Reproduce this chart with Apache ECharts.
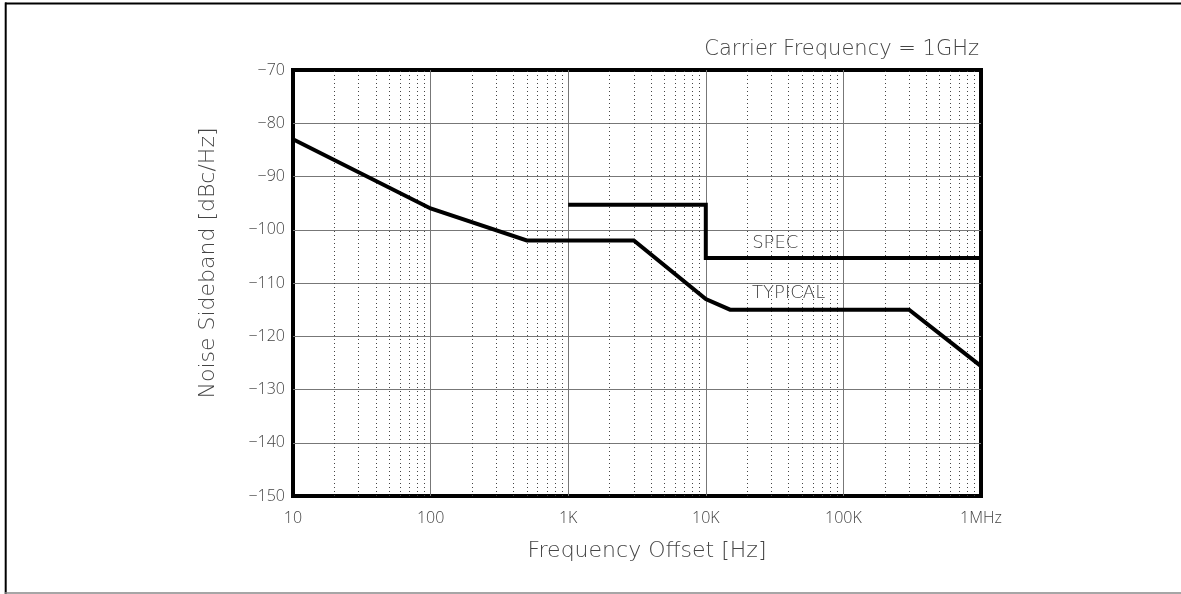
<!DOCTYPE html>
<html>
<head>
<meta charset="utf-8">
<script src="https://cdn.jsdelivr.net/npm/echarts@6/dist/echarts.min.js"></script>
<style>
html,body{margin:0;padding:0;background:#fff;}
#chart{width:1181px;height:594px;}
</style>
</head>
<body>
<div id="chart"></div>
<script>
// ---- data ----
const typicalFreq = [10, 100, 500, 3000, 10000, 15000, 300000, 1000000];
const typicalDb   = [-83, -96, -102, -102, -113, -115, -115, -125.6];
const specFreq    = [1000, 10000, 10000, 1000000];
const specDb      = [-95.3, -95.3, -105.3, -105.3];
const xTickLabels = ['10', '100', '1K', '10K', '100K', '1MHz'];
const seriesNames = ['SPEC', 'TYPICAL'];
const labelFreq   = [32000, 40000];
const labelDb     = [-102.6, -112];
const titleText   = 'Carrier Frequency = 1GHz';
const xName       = 'Frequency Offset [Hz]';
const yName       = 'Noise Sideband [dBc/Hz]';

// minor (2..9) grid positions on the log axis
const minorFreqs = [];
for (let d = 10; d < 1000000; d *= 10) {
  for (let m = 2; m <= 9; m++) minorFreqs.push(m * d);
}

const FONT = "'DejaVu Sans', sans-serif";
const TICKFONT = "'Open Sans', 'DejaVu Sans', sans-serif";
const TXT = '#444';
const chart = echarts.init(document.getElementById('chart'), null, {renderer: 'canvas'});

const zip = (xs, ys) => xs.map((x, i) => [x, ys[i]]);

const option = {
  animation: false,
  backgroundColor: '#fff',
  title: {
    text: titleText,
    right: 197,
    top: 34,
    textStyle: {fontFamily: FONT, fontWeight: 200, fontSize: 21, color: TXT}
  },
  grid: {
    left: 293, top: 70, width: 688, height: 426,
    show: true, borderColor: '#000', borderWidth: 4, backgroundColor: 'transparent'
  },
  xAxis: {
    type: 'log', logBase: 10, min: 10, max: 1000000,
    name: xName, nameLocation: 'middle', nameGap: 44,
    nameTextStyle: {fontFamily: FONT, fontWeight: 200, fontSize: 22, color: TXT, padding: [0, 0, 0, 20]},
    axisLine: {show: false},
    axisTick: {show: false},
    axisLabel: {
      fontFamily: TICKFONT, fontWeight: 300, fontSize: 16, color: TXT, margin: 14,
      formatter: v => xTickLabels[Math.round(Math.log10(v)) - 1]
    },
    splitLine: {show: true, showMinLine: false, showMaxLine: false, lineStyle: {color: '#777', width: 1}}
  },
  yAxis: {
    type: 'value', min: -150, max: -70, interval: 10,
    name: yName, nameLocation: 'middle', nameGap: 74, nameRotate: 90,
    nameTextStyle: {fontFamily: FONT, fontWeight: 200, fontSize: 22, color: TXT, padding: [0, 0, 0, 40]},
    axisLine: {show: false},
    axisTick: {show: false},
    axisLabel: {
      fontFamily: TICKFONT, fontWeight: 300, fontSize: 16, color: TXT, margin: 8,
      formatter: v => String(v).replace('-', '\u2212')
    },
    splitLine: {show: true, showMinLine: false, showMaxLine: false, lineStyle: {color: '#777', width: 1}}
  },
  series: [
    {
      name: 'minor-grid', type: 'line', data: [], silent: true,
      markLine: {
        silent: true, symbol: ['none', 'none'], label: {show: false},
        lineStyle: {color: '#444', width: 1, type: [1, 3]},
        emphasis: {disabled: true},
        data: minorFreqs.map(f => ({xAxis: f}))
      }
    },
    {
      name: seriesNames[0], type: 'line', data: zip(specFreq, specDb),
      showSymbol: false, symbol: 'none', z: 5,
      lineStyle: {color: '#000', width: 4, join: 'miter'},
      markPoint: {
        symbol: 'rect', symbolSize: 1, itemStyle: {color: 'rgba(0,0,0,0)'},
        label: {show: true, position: 'inside', formatter: seriesNames[0],
          fontFamily: FONT, fontWeight: 200, fontSize: 18, color: TXT},
        data: [{coord: [labelFreq[0], labelDb[0]]}]
      }
    },
    {
      name: seriesNames[1], type: 'line', data: zip(typicalFreq, typicalDb),
      showSymbol: false, symbol: 'none', z: 5,
      lineStyle: {color: '#000', width: 4, join: 'miter'},
      markPoint: {
        symbol: 'rect', symbolSize: 1, itemStyle: {color: 'rgba(0,0,0,0)'},
        label: {show: true, position: 'inside', formatter: seriesNames[1],
          fontFamily: FONT, fontWeight: 200, fontSize: 18, color: TXT},
        data: [{coord: [labelFreq[1], labelDb[1]]}]
      }
    }
  ],
  graphic: [
    {type: 'line', shape: {x1: 5, y1: 3.5, x2: 1181, y2: 3.5}, style: {stroke: '#000', lineWidth: 2}, silent: true},
    {type: 'line', shape: {x1: 5.7, y1: 2.5, x2: 5.7, y2: 594}, style: {stroke: '#000', lineWidth: 2}, silent: true},
    {type: 'line', shape: {x1: 5, y1: 593, x2: 1181, y2: 593}, style: {stroke: '#888', lineWidth: 1.5}, silent: true}
  ]
};
chart.setOption(option);
</script>
</body>
</html>
